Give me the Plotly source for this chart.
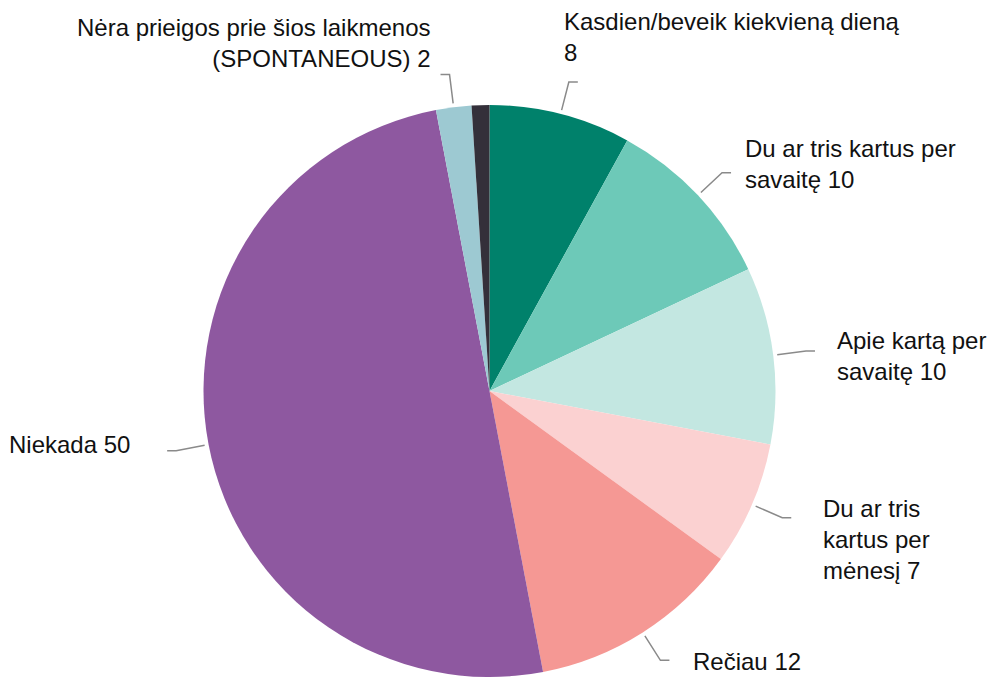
import math
import plotly.graph_objects as go

# ---- data ----
categories = [
    "Kasdien/beveik kiekvieną dieną",
    "Du ar tris kartus per savaitę",
    "Apie kartą per savaitę",
    "Du ar tris kartus per mėnesį",
    "Rečiau",
    "Niekada",
    "Nėra prieigos prie šios laikmenos (SPONTANEOUS)",
    "Nežino",
]
values = [8, 10, 10, 7, 12, 50, 2, 1]
label_texts = [
    "Kasdien/beveik kiekvieną dieną<br>8",
    "Du ar tris kartus per<br>savaitę 10",
    "Apie kartą per<br>savaitę 10",
    "Du ar tris<br>kartus per<br>mėnesį 7",
    "Rečiau 12",
    "Niekada 50",
    "Nėra prieigos prie šios laikmenos<br>(SPONTANEOUS) 2",
    None,
]

# ---- style ----
colors = ["#00816B", "#6DC9B8", "#C3E7E1", "#FBD1D1", "#F59894",
          "#8E58A0", "#9DC9D2", "#34303A"]
# label placement: (xshift, yshift, xanchor, align) relative to leader-line end
label_style = [
    (-16, 45, "left", "left"),
    (12, 9, "left", "left"),
    (20, -5, "left", "left"),
    (30, -22, "left", "left"),
    (22, -1, "left", "left"),
    (-35, 6, "right", "right"),
    (-9, 32, "right", "right"),
    None,
]

W, H = 989, 677
dom_x = [203 / W, 776 / W]
dom_y = [0.0, 1 - 105 / H]
R = min((dom_x[1] - dom_x[0]) * W, (dom_y[1] - dom_y[0]) * H) / 2
cx = (dom_x[0] + dom_x[1]) / 2 * W
cy = H - (dom_y[0] + dom_y[1]) / 2 * H


def to_paper(px, py):
    return px / W, 1 - py / H


fig = go.Figure(go.Pie(
    labels=categories,
    values=values,
    sort=False,
    direction="clockwise",
    rotation=0,
    marker=dict(colors=colors, line=dict(width=0)),
    textinfo="none",
    hoverinfo="label+value",
    domain=dict(x=dom_x, y=dom_y),
))

total = sum(values)
cum = 0
shapes = []
annotations = []
for v, txt, st in zip(values, label_texts, label_style):
    mid = (cum + v / 2) / total * 2 * math.pi
    cum += v
    if txt is None:
        continue
    s, c = math.sin(mid), math.cos(mid)
    r1, r2 = R + 4, R + 33
    p1 = (cx + r1 * s, cy - r1 * c)
    p2 = (cx + r2 * s, cy - r2 * c)
    side = 1 if s >= 0 else -1
    p3 = (p2[0] + side * 9, p2[1])
    a, b, d = to_paper(*p1), to_paper(*p2), to_paper(*p3)
    shapes.append(dict(
        type="path", xref="paper", yref="paper",
        path=f"M {a[0]},{a[1]} L {b[0]},{b[1]} L {d[0]},{d[1]}",
        line=dict(color="#8a8a8a", width=1.5),
    ))
    xs, ys, xa, al = st
    annotations.append(dict(
        x=d[0], y=d[1], xref="paper", yref="paper",
        text=txt, showarrow=False, xanchor=xa, yanchor="middle",
        align=al, xshift=xs, yshift=ys,
        font=dict(family="Liberation Sans, Arial, sans-serif", size=24, color="#111111"),
    ))

fig.update_layout(
    width=W, height=H,
    margin=dict(l=0, r=0, t=0, b=0),
    showlegend=False,
    paper_bgcolor="white",
    plot_bgcolor="white",
    shapes=shapes,
    annotations=annotations,
)

fig.write_html(
    "out.html",
    config={"displayModeBar": False},
    post_script="document.body.style.margin='0';document.body.style.overflow='hidden';",
)
